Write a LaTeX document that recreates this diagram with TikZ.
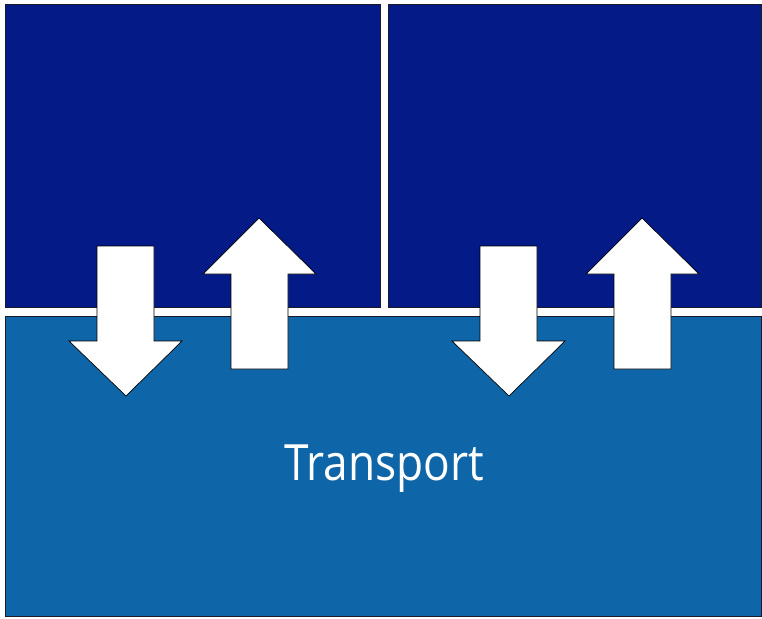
\documentclass[tikz,border=0pt]{standalone}
\usepackage{fontspec}
\usepackage{graphicx}
\setmainfont{Open Sans}
\definecolor{topblue}{HTML}{031A87}
\definecolor{botblue}{HTML}{0E65A8}
\definecolor{edge}{HTML}{1A1A2A}
\begin{document}
\begin{tikzpicture}[x=1pt,y=-1pt,
  panel/.style={draw=edge,line width=0.8pt},
  arrowshape/.style={fill=white,draw=black,line width=0.7pt,line join=miter}]
\useasboundingbox (0,0) rectangle (762,618);
\fill[white] (0,0) rectangle (762,618);
\filldraw[panel,fill=topblue] (5,4) rectangle (380,307);
\filldraw[panel,fill=topblue] (388,4) rectangle (761,307);
\filldraw[panel,fill=botblue] (5,316) rectangle (761,616);
\node[text=white,font=\fontsize{50}{60}\selectfont,anchor=base,inner sep=0pt] (t) at (384,480) {\scalebox{0.885}[1]{Transport}};
\foreach \dx/\nm in {0/a,383/b}{
  \begin{scope}[xshift=\dx pt]
  \draw[arrowshape] (97,246) coordinate (\nm down) -- (154,246) -- (154,341) -- (182,341) -- (126,396) -- (69,341) -- (97,341) -- cycle;
  \draw[arrowshape] (231,369) coordinate (\nm up) -- (288,369) -- (288,274) -- (316,274) -- (259,218) -- (203,274) -- (231,274) -- cycle;
  \end{scope}
}
\end{tikzpicture}
\end{document}
